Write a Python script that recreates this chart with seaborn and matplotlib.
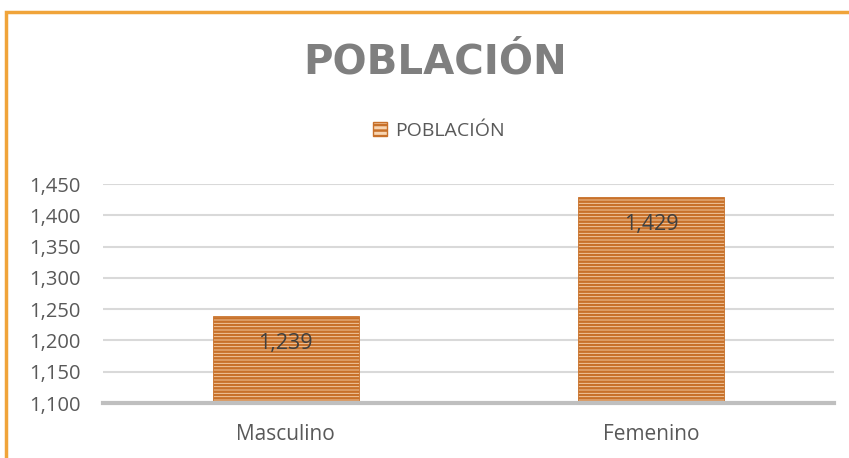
import matplotlib
matplotlib.use('Agg')
import matplotlib.pyplot as plt
import seaborn as sns
import pandas as pd
from matplotlib.patches import Patch, Rectangle

categorias = ['Masculino', 'Femenino']
poblacion = [1239, 1429]
etiquetas = ['1,239', '1,429']
yticks = [1100, 1150, 1200, 1250, 1300, 1350, 1400, 1450]

data = pd.DataFrame({'Sexo': categorias, 'Poblacion': poblacion})

sns.set_style('white')
plt.rcParams['font.family'] = ['Open Sans', 'DejaVu Sans']
plt.rcParams['hatch.linewidth'] = 1.8
plt.rcParams['hatch.color'] = '#c8712a'

fig = plt.figure(figsize=(8.49, 4.58), dpi=100)
ax = fig.add_axes([0.1213, 0.120, 0.861, 0.478])

# barras con rayas horizontales
sns.barplot(x='Sexo', y='Poblacion', data=data, width=0.4, color='#f7d5b2',
            edgecolor='#c8712a', linewidth=0.6, hatch='-----', saturation=1, ax=ax)

ax.set_ylim(1100, 1450)
ax.set_xlim(-0.5, 1.5)
ax.set_yticks(yticks)
ax.set_yticklabels([f'{v:,}' for v in yticks], color='#595959', fontsize=14.5)
ax.tick_params(axis='x', colors='#595959', labelsize=15, pad=15, length=0)
ax.tick_params(axis='y', length=0, pad=16)
ax.set_xlabel('')
ax.set_ylabel('')
ax.yaxis.grid(True, color='#d9d9d9', linewidth=1.5)
ax.set_axisbelow(True)
for s in ['top', 'right', 'left']:
    ax.spines[s].set_visible(False)
ax.spines['bottom'].set_color('#bfbfbf')
ax.spines['bottom'].set_linewidth(3)

for i, v in enumerate(poblacion):
    ax.text(i, v - 44, etiquetas[i], ha='center', va='center', fontsize=15.5, color='#404040')

fig.text(0.512, 0.864, 'POBLACIÓN', ha='center', va='center', fontsize=29,
         fontweight='bold', color='#7f7f7f', family='DejaVu Sans')

leg = fig.legend(handles=[Patch(facecolor='#f7d5b2', edgecolor='#c8712a', hatch='---', label='POBLACIÓN')],
                 loc='center', bbox_to_anchor=(0.517, 0.714), frameon=False, fontsize=14,
                 handlelength=0.7, handleheight=0.7, handletextpad=0.4)
for t in leg.get_texts():
    t.set_color('#595959')

# borde naranja del recuadro
fig.add_artist(Rectangle((0.007, -0.1), 1.1, 1.074, transform=fig.transFigure,
                         fill=False, edgecolor='#f0a43a', linewidth=2.5))

fig.savefig('out.png', dpi=100)
